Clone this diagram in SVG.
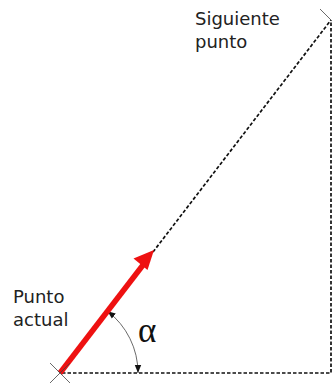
<svg xmlns="http://www.w3.org/2000/svg" width="333" height="383" viewBox="0 0 333 383">
<defs>
<style>
.lbl{font-family:"DejaVu Sans","Liberation Sans",sans-serif;font-size:18px;fill:#222}
.dash{stroke:#111;stroke-width:1.7;stroke-dasharray:3.5 2;fill:none}
.thin{stroke:#444;stroke-width:0.8;fill:none}
</style>
<marker id="ah" viewBox="0 0 10 10" refX="10" refY="5" markerWidth="8" markerHeight="8" markerUnits="userSpaceOnUse" orient="auto-start-reverse">
<path d="M0,1 L10,5 L0,9 Z" fill="#111"/>
</marker>
</defs>
<rect width="333" height="383" fill="#fff"/>
<g id="connectors">
<path class="dash" d="M62 373 H331 V20"/>
<path class="dash" d="M153 252 L331 20"/>
<path class="thin" d="M107.5 311.2 A78 78 0 0 1 138 373" stroke="#111" marker-start="url(#ah)" marker-end="url(#ah)"/>
</g>
<g id="arrow">
<line x1="60" y1="373" x2="143" y2="265" stroke="#ee1111" stroke-width="5.5"/>
<polygon points="154,250 133.5,258.5 147.5,270" fill="#ee1111"/>
</g>
<g id="punto-actual">
<path class="thin" d="M50 363 L70 383 M50 383 L70 363"/>
<text class="lbl" x="13" y="303">Punto</text>
<text class="lbl" x="13" y="326">actual</text>
</g>
<g id="siguiente-punto">
<path class="thin" d="M320 9 L331 20"/>
<text class="lbl" x="195" y="25">Siguiente</text>
<text class="lbl" x="195" y="48">punto</text>
</g>
<g id="alpha">
<text x="138" y="342" font-family="Liberation Serif,DejaVu Serif,serif" font-size="35" fill="#111">α</text>
</g>
</svg>
